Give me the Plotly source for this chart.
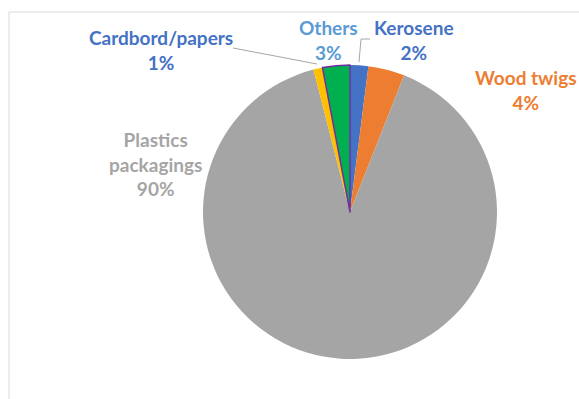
import plotly.graph_objects as go

W, H = 579, 399
categories = ["Kerosene", "Wood twigs", "Plastics packagings", "Cardbord/papers", "Others"]
values = [2, 4, 90, 1, 3]
slice_colors = ["#4472C4", "#ED7D31", "#A5A5A5", "#FFC000", "#00B050"]
label_colors = ["#4472C4", "#ED7D31", "#A5A5A5", "#4472C4", "#5B9BD5"]
label_lines = [["Kerosene", "2%"], ["Wood twigs", "4%"], ["Plastics", "packagings", "90%"],
               ["Cardbord/papers", "1%"], ["Others", "3%"]]
label_pos = [(414, 40), (526, 90), (155, 164), (161, 50), (329, 40)]

def px(x):
    return x / W

def py(y):
    return 1 - y / H

fig = go.Figure(go.Pie(
    labels=categories, values=values, sort=False, direction="clockwise", rotation=0,
    marker=dict(colors=slice_colors,
                line=dict(color=["rgba(0,0,0,0)"] * 4 + ["#7030A0"], width=[0, 0, 0, 0, 1.5])),
    textinfo="none", hoverinfo="label+percent", showlegend=False,
    domain=dict(x=[px(203), px(497)], y=[py(359), py(65)]),
))

annotations = []
for lines, col, (x, y) in zip(label_lines, label_colors, label_pos):
    annotations.append(dict(
        x=px(x), y=py(y), xref="paper", yref="paper", showarrow=False,
        text="<br>".join(lines), align="center", xanchor="center", yanchor="middle",
        font=dict(family="Lato", size=19, color=col, weight="bold"),
    ))

shapes = [
    dict(type="line", xref="paper", yref="paper", x0=px(9), x1=1.02, y0=py(12), y1=py(12),
         line=dict(color="#D9D9D9", width=1)),
    dict(type="line", xref="paper", yref="paper", x0=px(9), x1=px(9), y0=py(12), y1=-0.02,
         line=dict(color="#D9D9D9", width=1)),
    dict(type="path", xref="paper", yref="paper",
         path=f"M {px(233)},{py(48)} L {px(317)},{py(64)}", line=dict(color="#A6A6A6", width=1)),
    dict(type="path", xref="paper", yref="paper",
         path=f"M {px(370)},{py(39)} L {px(361)},{py(39)} L {px(359)},{py(62)}",
         line=dict(color="#A6A6A6", width=1)),
]

fig.update_layout(
    width=W, height=H, margin=dict(l=0, r=0, t=0, b=0),
    paper_bgcolor="white", plot_bgcolor="white",
    annotations=annotations, shapes=shapes,
)
fig.write_html("out.html")
